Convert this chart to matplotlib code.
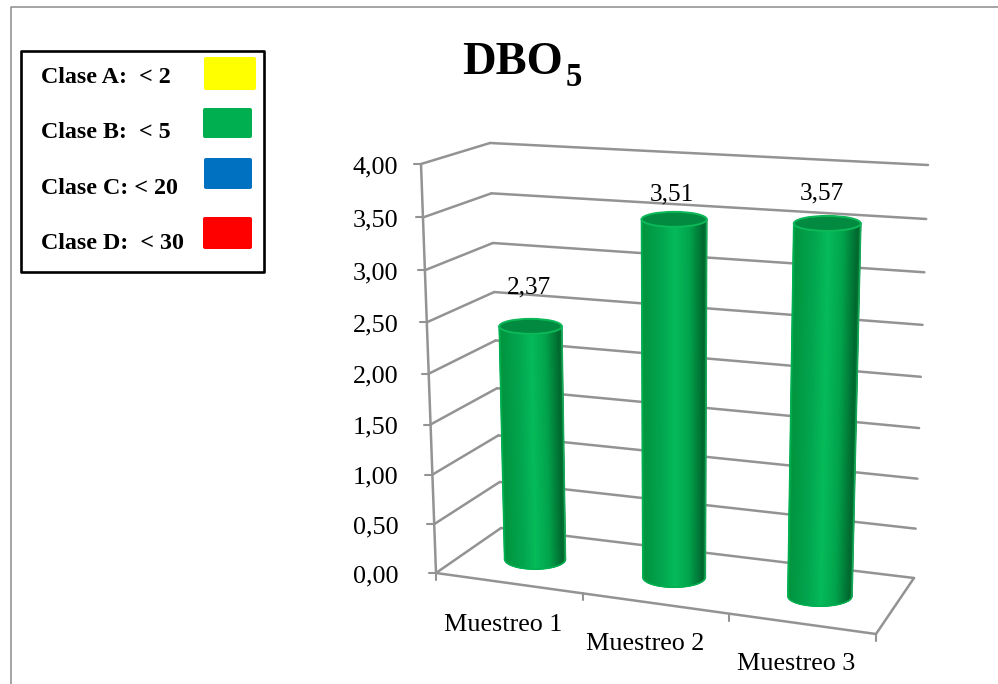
import numpy as np
import matplotlib
matplotlib.use('Agg')
import matplotlib.pyplot as plt
from matplotlib.colors import LinearSegmentedColormap
from matplotlib.patches import Ellipse, FancyBboxPatch, Rectangle

# data
samples = ['Muestreo 1', 'Muestreo 2', 'Muestreo 3']
dbo = [2.37, 3.51, 3.57]
ticks = [0, 0.5, 1, 1.5, 2, 2.5, 3, 3.5, 4]
classes = ['Clase A:  < 2', 'Clase B:  < 5', 'Clase C: < 20', 'Clase D:  < 30']
class_colors = ['#ffff00', '#00b050', '#0070c0', '#ff0000']

plt.rcParams['font.family'] = ['Liberation Serif', 'DejaVu Serif']
GREY = '#8c8c8c'
LINE = '#939393'

fig = plt.figure(figsize=(9.98, 6.84), dpi=100)
ax = fig.add_axes([0, 0, 1, 1])
ax.set_xlim(0, 998)
ax.set_ylim(684, 0)
ax.axis('off')

# box corners of the 3d chart, floor and top
FL0, FL4 = np.array([436., 573.]), np.array([421., 164.])
BL0, BL4 = np.array([501., 528.]), np.array([490., 143.])
BR0, BR4 = np.array([914., 578.]), np.array([928., 165.])
FR0 = np.array([876., 634.])
PERSP = 0.95


def up(v):
    # value to fraction of the wall height, top units slightly squeezed
    t = v / 4.0
    return t * PERSP / ((1 - t) + t * PERSP)


def edge(p0, p4, v):
    return p0 + (p4 - p0) * up(v)


def line(a, b, lw=1.8):
    ax.plot([a[0], b[0]], [a[1], b[1]], color=LINE, lw=lw, solid_capstyle='round', zorder=2)


def comma(v):
    return ('%.2f' % v).replace('.', ',')


# outer border of the sheet
ax.plot([11, 11, 998], [684, 6.5, 6.5], color=GREY, lw=1.1, zorder=1)

# walls and gridlines
for v in ticks:
    fl = edge(FL0, FL4, v)
    bl = edge(BL0, BL4, v)
    br = edge(BR0, BR4, v)
    line(fl, bl)
    line(bl, br)
    line(fl + [-7, 0], fl, lw=1.5)
    ax.text(398.5, fl[1] + 9, comma(v), ha='right', va='baseline', fontsize=18.8,
            color='black', zorder=5)

line(FL0, FL4)
line(FL0, FR0)
line(FR0, BR0)
for k in [0, 1 / 3, 2 / 3, 1]:
    p = FL0 + (FR0 - FL0) * k
    line(p, p + [0, 7], lw=1.5)

# cylinders
body_cmap = LinearSegmentedColormap.from_list('body', [
    (0.0, '#00a84e'), (0.04, '#01963f'), (0.3, '#02a54f'), (0.52, '#05bb5a'),
    (0.75, '#01a34c'), (0.96, '#016a2f'), (1.0, '#007a36')])

bar_pos = [0.156, 0.482, 0.824]
label_off = [(-2, -33), (-2, -19), (-5, -24)]

for f, v, off in zip(bar_pos, dbo, label_off):
    base = (FL0 + (FR0 - FL0) * f + BL0 + (BR0 - BL0) * f) / 2
    height = 397 + 28 * f
    lean = -11.5 + 24 * f
    t = up(v)
    top = base + np.array([lean * t, -height * t])
    r_bot = (60 + 5 * f) / 2
    r_top = r_bot * (1 + 0.05 * t)

    s = np.linspace(-1, 1, 121)
    arc = np.sqrt(1 - s ** 2)
    x_bot = base[0] + r_bot * s
    y_bot = base[1] + 10 * arc
    x_top = top[0] + r_top * s
    y_top = top[1] + 7.5 * arc
    X = np.vstack([x_top, x_bot])
    Y = np.vstack([y_top, y_bot])
    C = np.vstack([(s + 1) / 2, (s + 1) / 2])
    ax.pcolormesh(X, Y, C, cmap=body_cmap, vmin=0, vmax=1, shading='gouraud', zorder=3)
    ax.plot(x_bot, y_bot, color='#00b050', lw=1.1, zorder=3.1)
    ax.plot([x_top[0], x_bot[0]], [y_top[0], y_bot[0]], color='#00b050', lw=1.2, zorder=3.1)
    ax.plot([x_top[-1], x_bot[-1]], [y_top[-1], y_bot[-1]], color='#1aa85a', lw=1.2, zorder=3.1)
    cap = Ellipse(top, 2 * r_top, 15, facecolor='#018a40', edgecolor='#0cb858', lw=1.4, zorder=3.2)
    ax.add_patch(cap)
    ax.text(top[0] + off[0], top[1] + off[1], comma(v), ha='center', va='baseline',
            fontsize=18.3, color='black', zorder=5)

# category labels
for name, x, y in zip(samples, [444, 586, 737], [631, 650, 670]):
    ax.text(x, y, name, ha='left', va='baseline', fontsize=18.8, color='black', zorder=5)

# title
ax.text(462, 74, 'DBO', ha='left', va='baseline', fontsize=33.5, fontweight='bold', color='black')
ax.text(566, 86, '5', ha='left', va='baseline', fontsize=23.5, fontweight='bold', color='black')

# class legend box
ax.add_patch(Rectangle((21, 51), 243.5, 221, facecolor='white', edgecolor='black',
                       lw=1.9, joinstyle='round', zorder=6))
swatches = [(204, 57, 52, 33), (203, 108, 49, 30), (204, 158, 48, 31), (203, 217, 49, 32)]
for name, col, sw, y in zip(classes, class_colors, swatches, [83, 138, 194, 249]):
    ax.text(41, y, name, ha='left', va='baseline', fontsize=17.3, fontweight='bold',
            color='black', zorder=7)
    ax.add_patch(FancyBboxPatch((sw[0] + 1.5, sw[1] + 1.5), sw[2] - 3, sw[3] - 3,
                                boxstyle='round,pad=1.5,rounding_size=2', facecolor=col,
                                edgecolor='none', zorder=7))

fig.savefig('out.png', dpi=100)
